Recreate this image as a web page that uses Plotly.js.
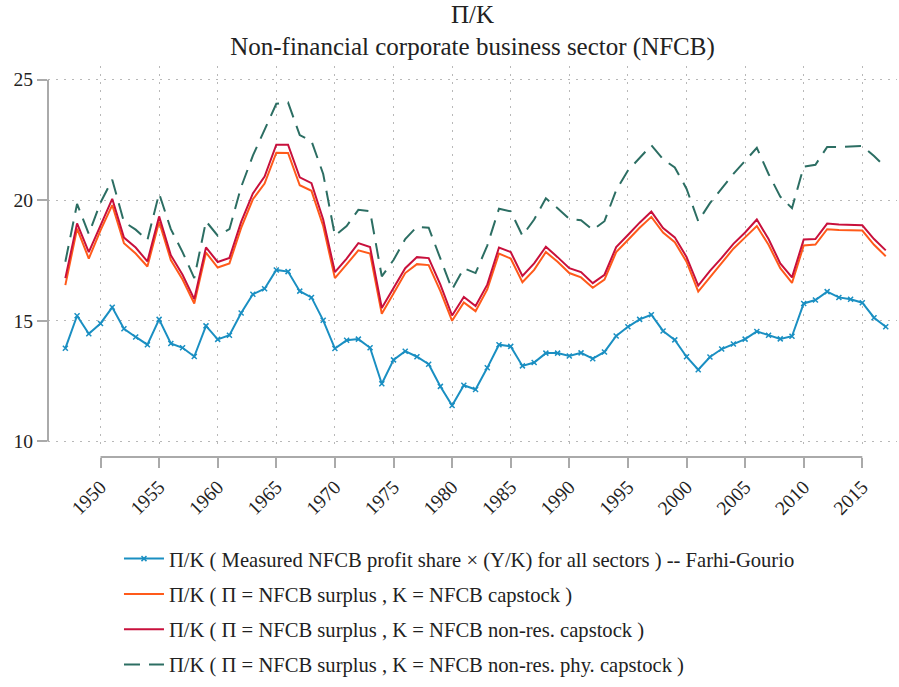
<!DOCTYPE html>
<html>
<head>
<meta charset="utf-8">
<script src="https://cdn.plot.ly/plotly-3.0.1.min.js"></script>
<style>html,body{margin:0;padding:0;background:#fff;}#chart{width:899px;height:687px;}</style>
</head>
<body>
<div id="chart"></div>
<script>
var years = [];
for (var yr = 1947; yr <= 2017; yr++) years.push(yr);

var fgShare = [13.86,15.21,14.46,14.89,15.56,14.67,14.33,14.01,15.06,14.06,13.88,13.52,14.79,14.23,14.40,15.32,16.10,16.33,17.11,17.04,16.23,15.97,15.02,13.85,14.19,14.24,13.88,12.39,13.38,13.74,13.51,13.20,12.28,11.49,12.33,12.15,13.05,14.01,13.94,13.13,13.27,13.66,13.66,13.54,13.67,13.43,13.71,14.37,14.75,15.06,15.25,14.58,14.21,13.51,12.97,13.50,13.83,14.04,14.24,14.56,14.40,14.25,14.36,15.72,15.86,16.21,15.97,15.89,15.75,15.13,14.75];

var nfcbCap = [16.48,18.82,17.58,18.75,19.80,18.22,17.79,17.25,19.11,17.52,16.71,15.72,17.83,17.21,17.38,18.85,20.04,20.69,21.97,21.96,20.62,20.39,18.93,16.77,17.34,17.92,17.79,15.29,16.13,16.98,17.35,17.31,16.23,15.00,15.76,15.40,16.30,17.79,17.58,16.60,17.11,17.85,17.45,16.98,16.80,16.37,16.71,17.85,18.35,18.86,19.31,18.66,18.26,17.45,16.21,16.80,17.38,17.99,18.46,18.93,18.15,17.18,16.57,18.12,18.16,18.80,18.77,18.76,18.74,18.15,17.68];

var nonResCap = [16.77,19.04,17.85,18.95,20.06,18.45,18.04,17.46,19.33,17.72,16.91,15.90,18.04,17.44,17.61,19.10,20.28,20.98,22.30,22.30,20.95,20.71,19.20,17.02,17.58,18.22,18.06,15.53,16.37,17.18,17.64,17.60,16.50,15.22,15.99,15.61,16.50,18.04,17.85,16.86,17.38,18.07,17.64,17.18,17.02,16.56,16.91,18.06,18.56,19.07,19.53,18.85,18.46,17.65,16.46,17.07,17.61,18.19,18.66,19.20,18.39,17.38,16.80,18.37,18.39,19.03,18.99,18.97,18.96,18.39,17.92];

var nonResPhyCap = [17.45,19.85,18.60,19.90,20.85,19.10,18.78,18.35,20.28,18.80,17.85,16.77,19.13,18.53,18.80,20.55,21.85,22.95,24.00,24.06,22.70,22.45,21.09,18.53,18.93,19.60,19.54,16.84,17.52,18.39,18.90,18.86,17.58,16.30,17.18,16.98,18.12,19.65,19.54,18.53,19.20,20.08,19.67,19.23,19.17,18.77,19.13,20.42,21.23,21.76,22.28,21.70,21.36,20.48,19.13,19.88,20.48,21.09,21.63,22.17,21.09,20.15,19.67,21.39,21.47,22.21,22.20,22.21,22.25,21.83,21.36];

var xTicks = [1950,1955,1960,1965,1970,1975,1980,1985,1990,1995,2000,2005,2010,2015];
var yTicks = [10,15,20,25];

var seriesNames = [
  "\u03A0/K ( Measured NFCB profit share \u00D7 (Y/K) for all sectors ) -- Farhi-Gourio",
  "\u03A0/K ( \u03A0 = NFCB surplus , K = NFCB capstock )",
  "\u03A0/K ( \u03A0 = NFCB surplus , K = NFCB non-res. capstock )",
  "\u03A0/K ( \u03A0 = NFCB surplus , K = NFCB non-res. phy. capstock )"
];

var FONT = '"Liberation Serif", "Times New Roman", serif';

var traces = [
  {x: years, y: fgShare, name: seriesNames[0], type: 'scatter', mode: 'lines+markers',
   line: {color: '#1a8fc2', width: 2}, marker: {symbol: 'x-thin-open', size: 5, color: '#1a8fc2', line: {color: '#1a8fc2', width: 1.5}},
   legendgroup: 'a'},
  {x: years, y: nfcbCap, name: seriesNames[1], type: 'scatter', mode: 'lines',
   line: {color: '#ff5a1a', width: 2}, legendgroup: 'b'},
  {x: years, y: nonResCap, name: seriesNames[2], type: 'scatter', mode: 'lines',
   line: {color: '#c8103c', width: 2}, legendgroup: 'c'},
  {x: years, y: nonResPhyCap, name: seriesNames[3], type: 'scatter', mode: 'lines',
   line: {color: '#2c6e63', width: 2, dash: '16px,9px'}, legendgroup: 'd'}
];

var layout = {
  width: 899, height: 687,
  margin: {l: 48, r: 2, t: 66, b: 220},
  paper_bgcolor: '#fff', plot_bgcolor: '#fff',
  font: {family: FONT, color: '#222', size: 19},
  title: {text: '\u03A0/K<br>Non-financial corporate business sector (NFCB)', x: 0.5, xref: 'paper', xanchor: 'center',
          y: 0.967, yref: 'container', yanchor: 'top', font: {family: FONT, size: 25, color: '#222'}},
  xaxis: {range: [1945.52, 2017.96], tickvals: xTicks, ticktext: xTicks.map(String), tickangle: -45,
          anchor: 'free', position: 0, showline: false, zeroline: false,
          ticks: 'outside', ticklen: 10, tickwidth: 2, tickcolor: '#aaaaaa',
          showgrid: true, gridcolor: '#b8b8b8', griddash: '2px,6px', gridwidth: 1,
          tickfont: {family: FONT, size: 19.5, color: '#222'}},
  yaxis: {range: [9.636, 25.566], domain: [0.0175, 1], tickvals: yTicks, ticktext: yTicks.map(String),
          showline: false, zeroline: false,
          ticks: 'outside', ticklen: 10, tickwidth: 2, tickcolor: '#aaaaaa',
          showgrid: true, gridcolor: '#b8b8b8', griddash: '2px,6px', gridwidth: 1,
          tickfont: {family: FONT, size: 19.5, color: '#222'}},
  shapes: [
    {type: 'line', xref: 'x', yref: 'paper', x0: 1950, x1: 2015, y0: 0, y1: 0, line: {color: '#aaaaaa', width: 2}},
    {type: 'line', xref: 'paper', yref: 'y', x0: 0, x1: 0, y0: 10, y1: 25, line: {color: '#aaaaaa', width: 2}}
  ],
  showlegend: true,
  legend: {x: 0.0836, xanchor: 'left', y: -0.209, yanchor: 'top', orientation: 'v',
           font: {family: FONT, size: 20.6, color: '#222'}, tracegroupgap: 5.5, itemwidth: 40,
           bgcolor: 'rgba(0,0,0,0)'},
  hovermode: false
};

Plotly.newPlot('chart', traces, layout, {displayModeBar: false, staticPlot: true});
</script>
</body>
</html>
